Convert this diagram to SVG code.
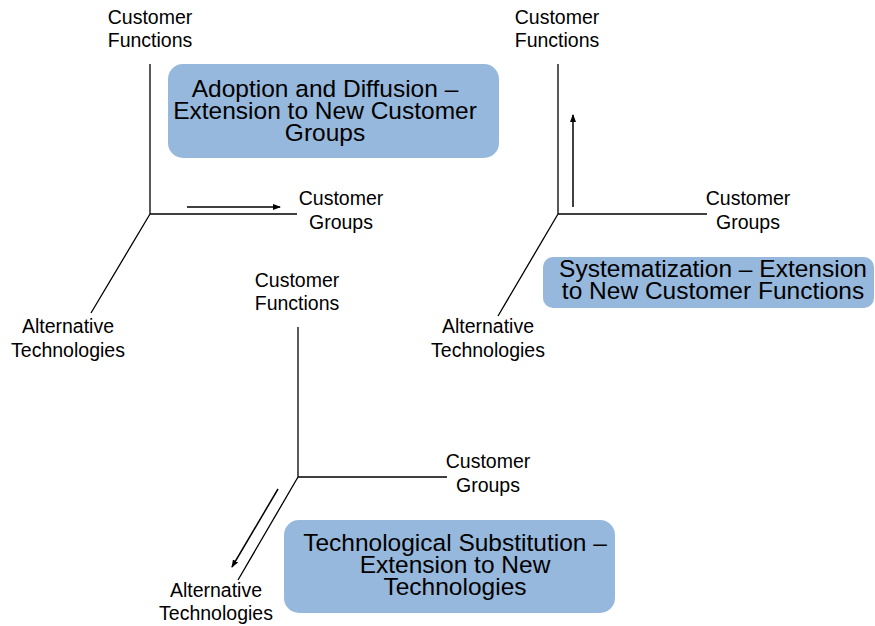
<svg xmlns="http://www.w3.org/2000/svg" width="875" height="626" viewBox="0 0 875 626">
<defs>
<marker id="ah" markerWidth="8" markerHeight="8" refX="7" refY="4" orient="auto" markerUnits="userSpaceOnUse">
<path d="M0,1 L8,4 L0,7 Z" fill="#000"/>
</marker>
<style>
.ax{stroke:#000;stroke-width:1.3;fill:none}
.ar{stroke:#000;stroke-width:1.5;fill:none;marker-end:url(#ah)}
.lb{font-family:"Liberation Sans",Arial,sans-serif;font-size:19.5px;fill:#000;text-anchor:middle}
.bx{fill:#95b8dc}
.bt{font-family:"Liberation Sans",Arial,sans-serif;font-size:24.5px;fill:#000;text-anchor:middle}
</style>
</defs>
<rect width="875" height="626" fill="#fff"/>
<g id="connectors">
<path class="ax" d="M150,64 V214 H297 M150,214 L91,313"/>
<path class="ax" d="M558,64 V214 H707 M558,214 L498,316"/>
<path class="ax" d="M298,327 V477 H447 M298,477 L238,580"/>
<line class="ar" x1="187" y1="207" x2="280" y2="207"/>
<line class="ar" x1="573" y1="207" x2="573" y2="115"/>
<line class="ar" x1="278" y1="489" x2="232" y2="567"/>
</g>
<g id="d1-functions"><text class="lb" x="150" y="24">Customer</text><text class="lb" x="150" y="47">Functions</text></g>
<g id="d1-groups"><text class="lb" x="341" y="205">Customer</text><text class="lb" x="341" y="229">Groups</text></g>
<g id="d1-tech"><text class="lb" x="68" y="333">Alternative</text><text class="lb" x="68" y="357">Technologies</text></g>
<g id="box1"><rect class="bx" x="168" y="64" width="331" height="94" rx="15"/>
<text class="bt" x="325" y="97">Adoption and Diffusion –</text><text class="bt" x="325" y="119">Extension to New Customer</text><text class="bt" x="325" y="141">Groups</text></g>
<g id="d2-functions"><text class="lb" x="557" y="24">Customer</text><text class="lb" x="557" y="47">Functions</text></g>
<g id="d2-groups"><text class="lb" x="748" y="205">Customer</text><text class="lb" x="748" y="229">Groups</text></g>
<g id="d2-tech"><text class="lb" x="488" y="333">Alternative</text><text class="lb" x="488" y="357">Technologies</text></g>
<g id="box2"><rect class="bx" x="543" y="257" width="331" height="51" rx="10"/>
<text class="bt" x="713" y="277">Systematization – Extension</text><text class="bt" x="713" y="299">to New Customer Functions</text></g>
<g id="d3-functions"><text class="lb" x="297" y="287">Customer</text><text class="lb" x="297" y="310">Functions</text></g>
<g id="d3-groups"><text class="lb" x="488" y="468">Customer</text><text class="lb" x="488" y="492">Groups</text></g>
<g id="d3-tech"><text class="lb" x="216" y="597">Alternative</text><text class="lb" x="216" y="620">Technologies</text></g>
<g id="box3"><rect class="bx" x="284" y="520" width="331" height="93" rx="15"/>
<text class="bt" x="455" y="551">Technological Substitution –</text><text class="bt" x="455" y="573">Extension to New</text><text class="bt" x="455" y="595">Technologies</text></g>
</svg>
